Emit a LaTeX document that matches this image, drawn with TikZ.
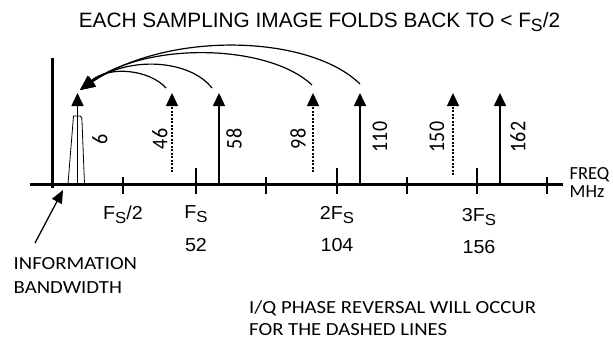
\documentclass[tikz,border=0pt]{standalone}
\usepackage{fontspec}
\usepackage{graphicx}
\usetikzlibrary{arrows.meta}
\newfontfamily\calfont[FakeStretch=1.12]{Carlito}
\newfontfamily\calrot{Carlito}
\newfontfamily\arlfont{Liberation Sans}
\newfontfamily\arlwide[FakeStretch=1.05]{Liberation Sans}
\newcommand\subS{\raisebox{-0.22em}{\scalebox{0.85}{S}}}
\begin{document}
\begin{tikzpicture}[x=1pt,y=-1pt,
  axisline/.style={line width=3pt},
  tickmark/.style={line width=1.3pt},
  solidarrow/.style={line width=1.6pt,-{Triangle[length=13pt,width=12pt]}},
  dasharrow/.style={line width=1.3pt,dash pattern=on 2pt off 1.5pt,-{Triangle[length=13pt,width=12pt]}},
  foldarrow/.style={line width=1.2pt,-{Triangle[length=15pt,width=12pt]}},
  infoarrow/.style={line width=1.3pt,-{Triangle[length=13pt,width=11pt]}},
  caltext/.style={font=\calfont\fontsize{18.5}{22}\selectfont, inner sep=0pt},
  unitext/.style={font=\calrot\fontsize{18.5}{22}\selectfont, inner sep=0pt},
  rotlabel/.style={font=\calrot\fontsize{20}{22}\selectfont, inner sep=0pt, rotate=90},
  fslabel/.style={font=\arlwide\fontsize{18.8}{22}\selectfont, inner sep=0pt, anchor=base},
  titletext/.style={font=\arlfont\fontsize{20.8}{24}\selectfont, inner sep=0pt, anchor=base}
]
\useasboundingbox (0,0) rectangle (613,343);

% title
\node[titletext] (title) at (319.5,27) {EACH SAMPLING IMAGE FOLDS BACK TO < F\subS/2};

% axes
\coordinate (ax0) at (30,184);
\coordinate (ax1) at (563,184);
\coordinate (vy0) at (52,58);
\coordinate (vy1) at (52,188);
\draw[axisline] (ax0) -- (ax1);
\draw[axisline] (vy0) -- (vy1);

% ticks
\foreach \x in {123,266,407,547} \draw[tickmark] (\x,177) -- (\x,194);
\foreach \x in {196,337,477} \draw[tickmark] (\x,168) -- (\x,194);

% information bandwidth shape
\draw[line width=0.8pt] (68,184) -- (73.5,116) -- (80,116) to[out=0,in=95] (82,121) -- (84.5,184);

% spectral lines
\coordinate (b6) at (77.5,184);   \coordinate (t6) at (77.5,93);
\coordinate (b46) at (172,172);   \coordinate (t46) at (172,93);
\coordinate (b58) at (219,184);   \coordinate (t58) at (219,93);
\coordinate (b98) at (313,172);   \coordinate (t98) at (313,93);
\coordinate (b110) at (360,184);  \coordinate (t110) at (360,93);
\coordinate (b150) at (453,175);  \coordinate (t150) at (453,93);
\coordinate (b162) at (500,184);  \coordinate (t162) at (500,93);
\draw[solidarrow] (b6) -- (t6);
\draw[dasharrow] (b46) -- (t46);
\draw[solidarrow] (b58) -- (t58);
\draw[dasharrow] (b98) -- (t98);
\draw[solidarrow] (b110) -- (t110);
\draw[dasharrow] (b150) -- (t150);
\draw[solidarrow] (b162) -- (t162);

% line labels
\node[rotlabel] (l6) at (100,139) {\scalebox{1}[1.12]{6}};
\node[rotlabel] (l46) at (160,139) {\scalebox{1}[1.12]{46}};
\node[rotlabel] (l58) at (234,139) {\scalebox{1}[1.12]{58}};
\node[rotlabel] (l98) at (298,139) {\scalebox{1}[1.12]{98}};
\node[rotlabel] (l110) at (380,137) {\scalebox{1}[1.12]{110}};
\node[rotlabel] (l150) at (437,137) {\scalebox{1}[1.12]{150}};
\node[rotlabel] (l162) at (518,137) {\scalebox{1}[1.12]{162}};

% fold-back arcs
\coordinate (fold) at (80,90);
\coordinate (s46) at (166,88);
\coordinate (s58) at (212,88);
\coordinate (s98) at (312,85);
\coordinate (s110) at (360,84);
\draw[foldarrow] (s110) .. controls (310,35) and (170,30) .. (fold);
\draw[foldarrow] (s98) .. controls (270,45) and (150,40) .. (fold);
\draw[foldarrow] (s58) .. controls (190,60) and (130,55) .. (fold);
\draw[foldarrow] (s46) .. controls (150,70) and (110,65) .. (fold);

% axis labels
\node[fslabel] (fs2) at (123,219) {F\subS/2};
\node[fslabel] (fs1) at (196,218.5) {F\subS};
\node[fslabel] (n52) at (196,251.5) {52};
\node[fslabel] (fs2x) at (337,219) {2F\subS};
\node[fslabel] (n104) at (337,251.5) {104};
\node[fslabel] (fs3x) at (479,221) {3F\subS};
\node[fslabel] (n156) at (479,253) {156};

\node[unitext, anchor=base west] (freq) at (569.5,179) {FREQ};
\node[unitext, anchor=base west] (mhz) at (569.5,197) {MHz};

% information bandwidth label
\node[caltext, anchor=base west] (info) at (13.5,269.3) {INFORMATION};
\node[caltext, anchor=base west] (bw) at (13.5,293.3) {BANDWIDTH};
\coordinate (infostart) at (35,243);
\coordinate (infotip) at (63,190);
\draw[infoarrow] (infostart) -- (infotip);

% note
\node[caltext, anchor=base west] (note1) at (249,313.3) {I/Q PHASE REVERSAL WILL OCCUR};
\node[caltext, anchor=base west] (note2) at (249,335) {FOR THE DASHED LINES};
\end{tikzpicture}
\end{document}
